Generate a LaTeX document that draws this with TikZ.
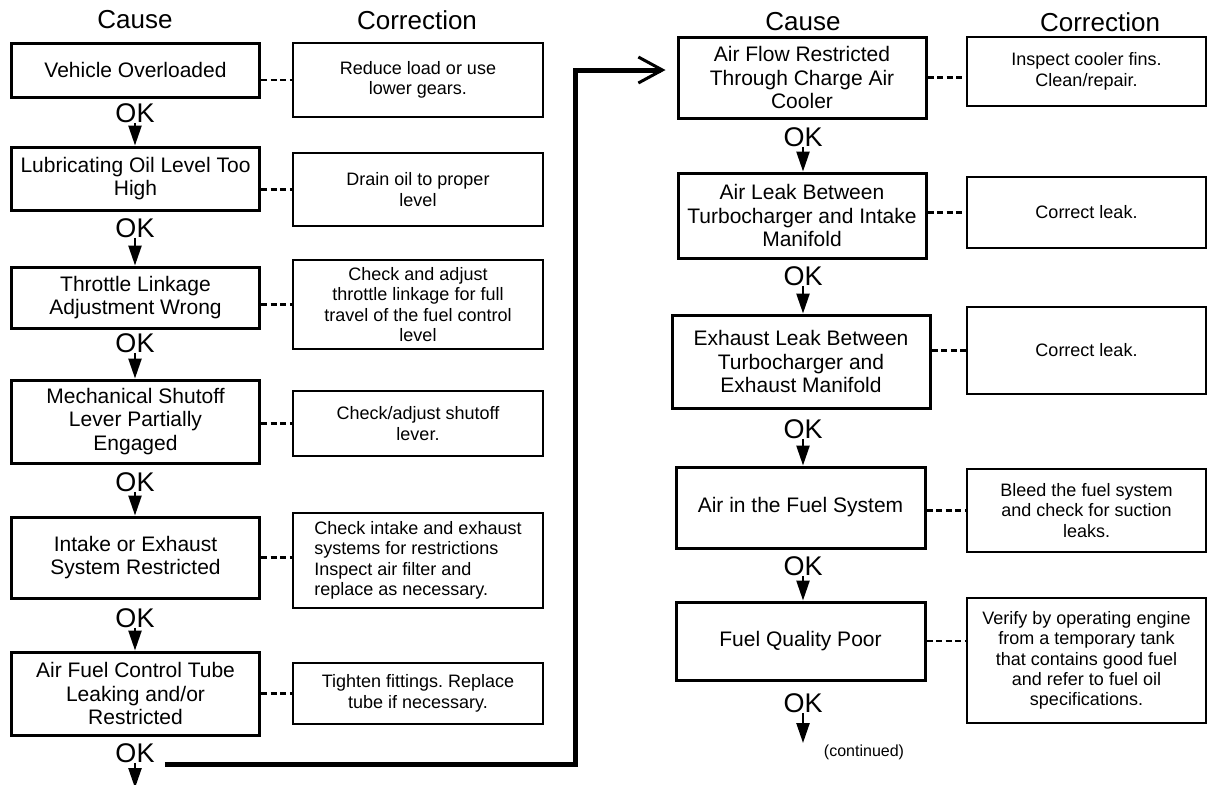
\documentclass[tikz,border=0pt]{standalone}
\usepackage{fontspec}
\setmainfont{Liberation Sans}
\usetikzlibrary{arrows.meta, positioning}
\newcommand{\causefont}{\fontsize{10.5pt}{11.6pt}\selectfont}
\newcommand{\fixfont}{\fontsize{9pt}{10.2pt}\selectfont}
\newcommand{\okfont}{\fontsize{13.5pt}{14pt}\selectfont}
\newcommand{\headfont}{\fontsize{13pt}{14pt}\selectfont}
\frenchspacing

\begin{document}
\begin{tikzpicture}[x=0.5pt, y=-0.5pt,
  cause/.style={draw, line width=1.5pt, minimum width=124pt, align=center, font=\causefont, inner sep=2pt},
  fix/.style={draw, line width=1.1pt, minimum width=125pt, align=center, font=\fixfont, inner sep=2pt},
  ok/.style={font=\okfont, inner sep=0pt},
  head/.style={font=\headfont},
  link/.style={line width=1.1pt, dash pattern=on 3pt off 1.8pt},
  down/.style={line width=1.2pt, -{Triangle[length=10pt, width=6.5pt]}},
  jump/.style={line width=2.5pt, -{Straight Barb[length=12pt, width=13pt, line width=1.5pt]}}]
  \useasboundingbox (0,0) rectangle (1209,784);

  \node[head] (h1) at (135,20) {Cause};
  \node[head] (h2) at (417,20) {Correction};
  \node[head] (h3) at (803,22) {Cause};
  \node[head] (h4) at (1100,22) {Correction};

  \node[cause, minimum height=27pt] (c1) at (135.5,70) {Vehicle Overloaded};
  \node[cause, minimum height=31.5pt] (c2) at (135.5,178.5) {Lubricating Oil Level Too\\High};
  \node[cause, minimum height=30.5pt] (c3) at (135.5,297.5) {Throttle Linkage\\Adjustment Wrong};
  \node[cause, minimum height=41.5pt] (c4) at (135.5,421.5) {Mechanical Shutoff\\Lever Partially\\Engaged};
  \node[cause, minimum height=40.5pt] (c5) at (135.5,557.5) {Intake or Exhaust\\System Restricted};
  \node[cause, minimum height=41.5pt] (c6) at (135.5,693.5) {Air Fuel Control Tube\\Leaking and/or\\Restricted};

  \node[fix, minimum height=37pt] (k1) at (418,80) {Reduce load or use\\lower gears.};
  \node[fix, minimum height=36.5pt] (k2) at (418,189.5) {Drain oil to proper\\level};
  \node[fix, minimum height=44.5pt] (k3) at (418,304.5) {Check and adjust\\throttle linkage for full\\travel of the fuel control\\level};
  \node[fix, minimum height=32.5pt] (k4) at (418,423.5) {Check/adjust shutoff\\lever.};
  \node[fix, minimum height=47.5pt, align=left] (k5) at (418,560.5) {Check intake and exhaust\\systems for restrictions\\Inspect air filter and\\replace as necessary.};
  \node[fix, minimum height=30.5pt] (k6) at (418,693.5) {Tighten fittings. Replace\\tube if necessary.};

  \node[cause, minimum height=40.5pt] (r1) at (802,77.5) {Air Flow Restricted\\Through Charge Air\\Cooler};
  \node[cause, minimum height=42.5pt] (r2) at (802,215.5) {Air Leak Between\\Turbocharger and Intake\\Manifold};
  \node[cause, minimum height=46.5pt, minimum width=129pt] (r3) at (801,361.5) {Exhaust Leak Between\\Turbocharger and\\Exhaust Manifold};
  \node[cause, minimum height=40.5pt, minimum width=124.5pt] (r4) at (800.5,507.5) {Air in the Fuel System};
  \node[cause, minimum height=39pt, minimum width=124.5pt] (r5) at (800.5,641) {Fuel Quality Poor};

  \node[fix, minimum height=34.5pt, minimum width=119.5pt] (q1) at (1086.5,71.5) {Inspect cooler fins.\\Clean/repair.};
  \node[fix, minimum height=35.5pt, minimum width=119.5pt] (q2) at (1086.5,212.5) {Correct leak.};
  \node[fix, minimum height=43.5pt, minimum width=119.5pt] (q3) at (1086.5,350.5) {Correct leak.};
  \node[fix, minimum height=41.5pt, minimum width=119.5pt] (q4) at (1086.5,510.5) {Bleed the fuel system\\and check for suction\\leaks.};
  \node[fix, minimum height=62.5pt, minimum width=119.5pt] (q5) at (1086.5,660.5) {Verify by operating engine\\from a temporary tank\\that contains good fuel\\and refer to fuel oil\\specifications.};

  \node[ok] (o1) at (135,113) {OK};
  \node[ok] (o2) at (135,228) {OK};
  \node[ok] (o3) at (135,343) {OK};
  \node[ok] (o4) at (135,482) {OK};
  \node[ok] (o5) at (135,618) {OK};
  \node[ok] (o6) at (135,753) {OK};
  \node[ok] (p1) at (803,137) {OK};
  \node[ok] (p2) at (803,276) {OK};
  \node[ok] (p3) at (803,429) {OK};
  \node[ok] (p4) at (803,566) {OK};
  \node[ok] (p5) at (803,703) {OK};
  \node[font=\fontsize{8pt}{9pt}\selectfont] (cont) at (864,752) {(continued)};

  \coordinate (endL) at (135,788);
  \coordinate (endR) at (803,743);
  \coordinate (bend) at (575,70);

  \draw[down] (o1.south) -- (o1.south |- c2.north);
  \draw[down] (o2.south) -- (o2.south |- c3.north);
  \draw[down] (o3.south) -- (o3.south |- c4.north);
  \draw[down] (o4.south) -- (o4.south |- c5.north);
  \draw[down] (o5.south) -- (o5.south |- c6.north);
  \draw[down] (o6.south) -- (endL);
  \draw[down] (p1.south) -- (p1.south |- r2.north);
  \draw[down] (p2.south) -- (p2.south |- r3.north);
  \draw[down] (p3.south) -- (p3.south |- r4.north);
  \draw[down] (p4.south) -- (p4.south |- r5.north);
  \draw[down] (p5.south) -- (endR);

  \draw[link] (k1.west -| c1.east) -- (k1.west);
  \draw[link] (k2.west -| c2.east) -- (k2.west);
  \draw[link] (k3.west -| c3.east) -- (k3.west);
  \draw[link] (k4.west -| c4.east) -- (k4.west);
  \draw[link] (c5.east) -- (c5.east -| k5.west);
  \draw[link] (c6.east) -- (c6.east -| k6.west);
  \draw[link] (r1.east) -- (r1.east -| q1.west);
  \draw[link] (q2.west -| r2.east) -- (q2.west);
  \draw[link] (q3.west -| r3.east) -- (q3.west);
  \draw[link] (q4.west -| r4.east) -- (q4.west);
  \draw[link] (r5.east) -- (r5.east -| q5.west);

  \draw[jump, shorten >=5.5pt] ([xshift=5pt, yshift=-1pt]o6.south east) -| (bend) -- (bend -| r1.west);
\end{tikzpicture}
\end{document}
